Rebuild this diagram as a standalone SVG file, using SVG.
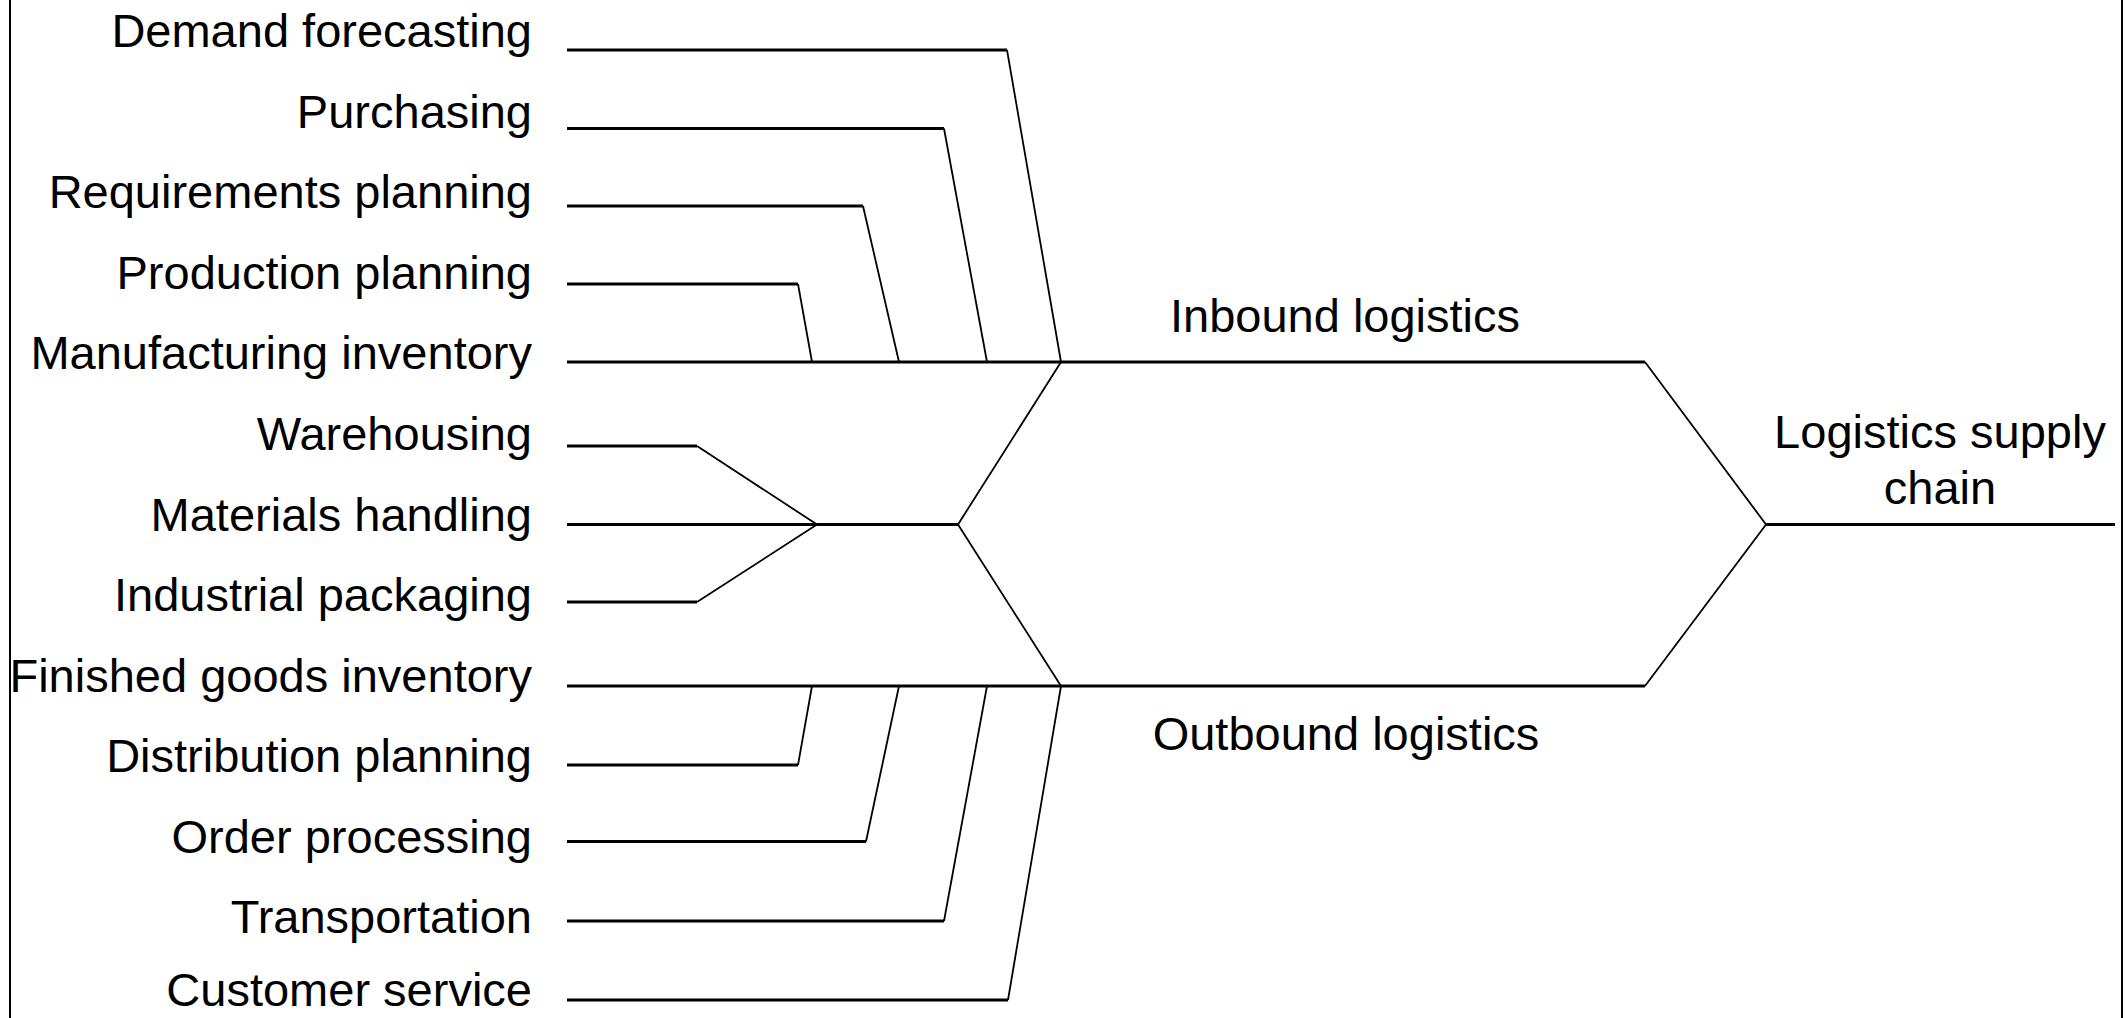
<svg xmlns="http://www.w3.org/2000/svg" width="2127" height="1018" viewBox="0 0 2127 1018">
<style>
.t{font-family:"Liberation Sans",Arial,sans-serif;font-size:47px;fill:#000}
.l{text-anchor:end}
.c{text-anchor:middle}
.h{stroke:#000;stroke-width:3;fill:none}
.d{stroke:#000;stroke-width:1.8;fill:none}
.b{stroke:#000;stroke-width:2;fill:none}
</style>
<rect x="0" y="0" width="2127" height="1018" fill="#fff"/>
<line class="b" x1="10" y1="0" x2="10" y2="1018"/>
<line class="b" x1="2122" y1="0" x2="2122" y2="1018"/>
<g id="connectors">
<polyline class="h" points="567,50 1007,50"/>
<polyline class="d" points="1007,50 1061,362"/>
<polyline class="h" points="567,128.5 944,128.5"/>
<polyline class="d" points="944,128.5 987,362"/>
<polyline class="h" points="567,206 863,206"/>
<polyline class="d" points="863,206 899,362"/>
<polyline class="h" points="567,284 798,284"/>
<polyline class="d" points="798,284 812,362"/>
<polyline class="h" points="567,362 1645,362"/>
<polyline class="h" points="567,446 697,446"/>
<polyline class="d" points="697,446 817,524.5 697,602"/>
<polyline class="h" points="567,602 697,602"/>
<polyline class="h" points="567,524.5 958,524.5"/>
<polyline class="d" points="1061,362 958,524.5 1061,686"/>
<polyline class="h" points="567,686 1645,686"/>
<polyline class="d" points="1645,362 1766,524.5 1645,686"/>
<polyline class="h" points="1766,524.5 2115,524.5"/>
<polyline class="h" points="567,765 798,765"/>
<polyline class="d" points="798,765 812,686"/>
<polyline class="h" points="567,841.5 866,841.5"/>
<polyline class="d" points="866,841.5 899,686"/>
<polyline class="h" points="567,921 944,921"/>
<polyline class="d" points="944,921 987,686"/>
<polyline class="h" points="567,1000 1008,1000"/>
<polyline class="d" points="1008,1000 1061,686"/>
</g>
<g id="demand-forecasting"><text class="t l" x="532" y="47">Demand forecasting</text></g>
<g id="purchasing"><text class="t l" x="532" y="127.6">Purchasing</text></g>
<g id="requirements-planning"><text class="t l" x="532" y="208.2">Requirements planning</text></g>
<g id="production-planning"><text class="t l" x="532" y="288.7">Production planning</text></g>
<g id="manufacturing-inventory"><text class="t l" x="532" y="369.3">Manufacturing inventory</text></g>
<g id="warehousing"><text class="t l" x="532" y="449.9">Warehousing</text></g>
<g id="materials-handling"><text class="t l" x="532" y="530.5">Materials handling</text></g>
<g id="industrial-packaging"><text class="t l" x="532" y="611.1">Industrial packaging</text></g>
<g id="finished-goods-inventory"><text class="t l" x="532" y="691.6">Finished goods inventory</text></g>
<g id="distribution-planning"><text class="t l" x="532" y="772.2">Distribution planning</text></g>
<g id="order-processing"><text class="t l" x="532" y="852.8">Order processing</text></g>
<g id="transportation"><text class="t l" x="532" y="933.4">Transportation</text></g>
<g id="customer-service"><text class="t l" x="532" y="1006">Customer service</text></g>
<g id="inbound-logistics"><text class="t c" x="1345" y="332">Inbound logistics</text></g>
<g id="outbound-logistics"><text class="t c" x="1346" y="750">Outbound logistics</text></g>
<g id="logistics-supply-chain"><text class="t c" x="1940" y="448">Logistics supply</text><text class="t c" x="1940" y="504">chain</text></g>
</svg>
